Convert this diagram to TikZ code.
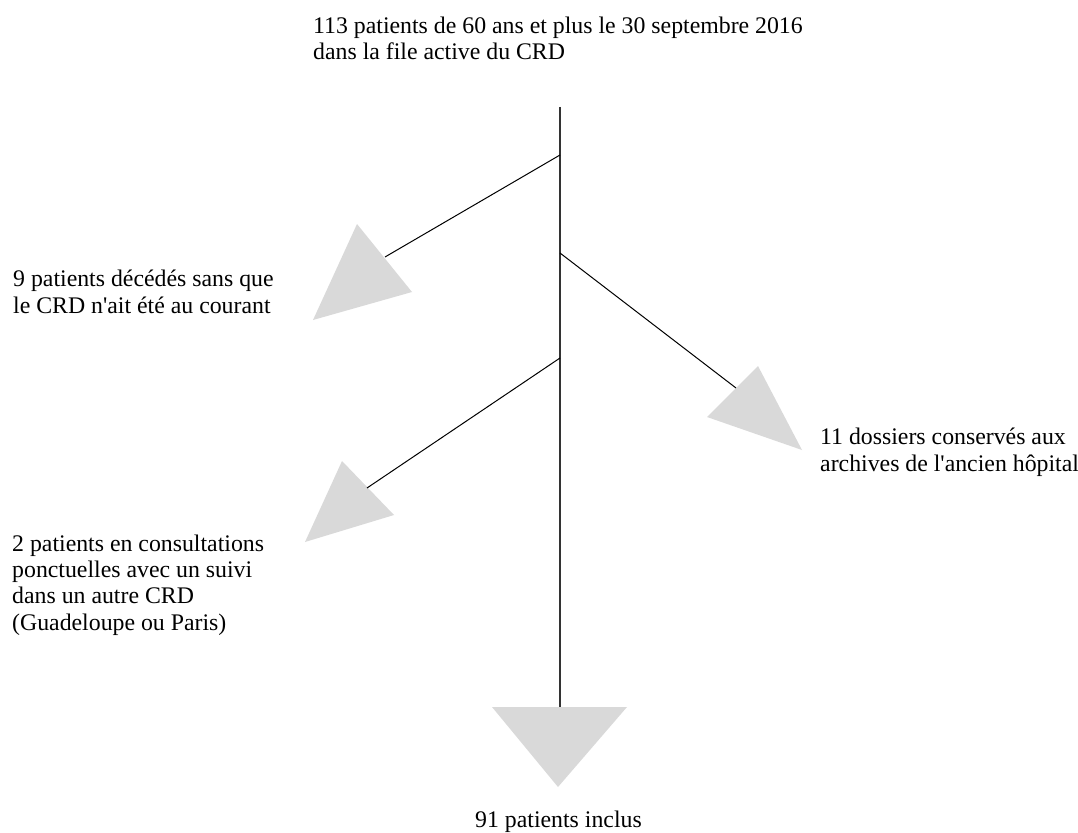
\documentclass[tikz,border=0pt]{standalone}
\usepackage{fontspec}
\setmainfont{Liberation Serif}[Ligatures=TeXOff]
\begin{document}
\begin{tikzpicture}[x=1pt,y=-1pt,
  lbl/.style={anchor=base west,inner sep=0pt,align=left,font=\fontsize{23.8}{26.3}\selectfont},
  trunk/.style={draw=black!80,line width=1.4pt},
  branch/.style={draw=black,line width=1pt},
  head/.style={fill=black!15,draw=none}]
\useasboundingbox (0,0) rectangle (1078,832);
% text (anchor at baseline of last line)
\node[lbl] (top) at (313,60) {113 patients de 60 ans et plus le 30 septembre 2016\\dans la file active du CRD};
\node[lbl] (dec) at (13,313) {9 patients décédés sans que\\le CRD n'ait été au courant};
\node[lbl] (arc) at (820,471) {11 dossiers conservés aux\\archives de l'ancien hôpital};
\node[lbl] (con) at (12,630) {2 patients en consultations\\ponctuelles avec un suivi\\dans un autre CRD\\(Guadeloupe ou Paris)};
\node[lbl] (inc) at (475,827) {91 patients inclus};
% coordinates
\coordinate (t0) at (560,107);
\coordinate (t1) at (560,155);
\coordinate (t2) at (560,253);
\coordinate (t3) at (560,358);
\coordinate (t4) at (560,707);
\coordinate (e1) at (385,257);
\coordinate (e2) at (736,388);
\coordinate (e3) at (367,488);
% arrowheads
\fill[head] (357,224) -- (412,292) -- (313,320) -- cycle;
\fill[head] (758,366) -- (707,417) -- (802,450) -- cycle;
\fill[head] (342,461) -- (394,515) -- (305,542) -- cycle;
\fill[head] (492,707) -- (627,707) -- (558,787) -- cycle;
% connectors
\draw[trunk] (t0) -- (t4);
\draw[branch] (t1) -- (e1);
\draw[branch] (t2) -- (e2);
\draw[branch] (t3) -- (e3);
\end{tikzpicture}
\end{document}
